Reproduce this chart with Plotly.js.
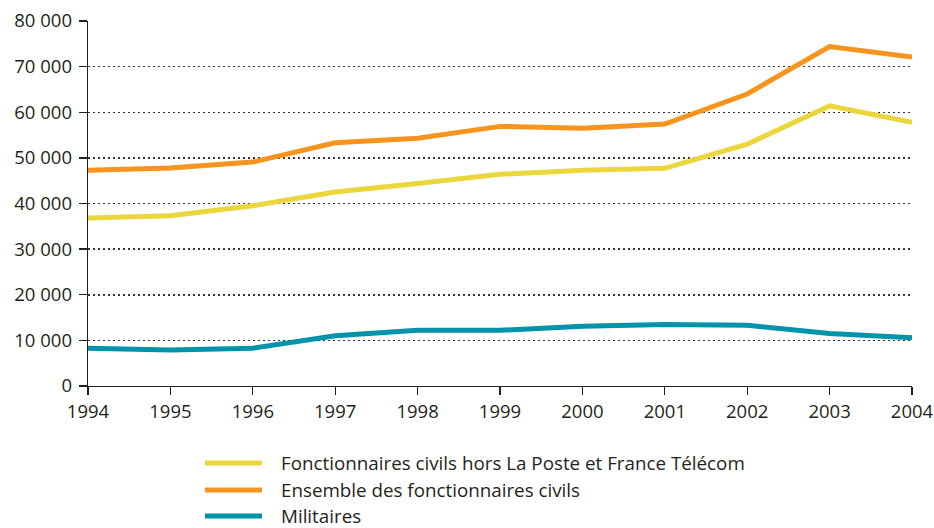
<!DOCTYPE html>
<html>
<head>
<meta charset="utf-8">
<script src="https://cdn.plot.ly/plotly-3.0.1.min.js"></script>
<style>html,body{margin:0;padding:0;background:#fff;}#chart{width:934px;height:528px;}</style>
</head>
<body>
<div id="chart"></div>
<script>
const years = [1994,1995,1996,1997,1998,1999,2000,2001,2002,2003,2004];
const horsPoste = [36800,37300,39500,42500,44400,46400,47300,47700,53000,61400,57800];
const ensemble = [47300,47800,49100,53300,54300,56900,56500,57400,64000,74400,72100];
const militaires = [8300,7900,8300,11000,12200,12200,13100,13500,13300,11500,10600];
const seriesNames = ["Fonctionnaires civils hors La Poste et France Télécom","Ensemble des fonctionnaires civils","Militaires"];
const seriesColors = ["#ebd63b","#f7941d","#0093a9"];
const yTicks = [0,10000,20000,30000,40000,50000,60000,70000,80000];
const yTickText = ["0","10 000","20 000","30 000","40 000","50 000","60 000","70 000","80 000"];

const tickFont = {family:"'Open Sans', Lato, sans-serif", size:18.5, color:"#231f20"};
const legFont = {family:"'Open Sans', Lato, sans-serif", size:18.8, color:"#231f20"};
const allSeries = [horsPoste, ensemble, militaires];
const traces = allSeries.map((v,i)=>({
  x: years, y: v, type:"scatter", mode:"lines", name: seriesNames[i],
  line:{color: seriesColors[i], width:5}, showlegend:false, hoverinfo:"skip"
}));

const W = 934, H = 528, L = 88, R = 22, T = 21, B = 142;
const pw = W-L-R, ph = H-T-B;
const px = x => (x-L)/pw;
const py = y => (H-B-y)/ph;
const legendY = [463,490,516];
const shapes = [], annotations = [];
legendY.forEach((y,i)=>{
  shapes.push({type:"line", xref:"paper", yref:"paper", x0:px(205), x1:px(262), y0:py(y), y1:py(y),
    line:{color:seriesColors[i], width:5}});
  annotations.push({xref:"paper", yref:"paper", x:px(279), y:py(y), xanchor:"left", yanchor:"middle",
    text:seriesNames[i], showarrow:false, font:legFont});
});

const layout = {
  width:W, height:H, margin:{l:L, r:R, t:T, b:B},
  paper_bgcolor:"#fff", plot_bgcolor:"#fff", font:tickFont,
  xaxis:{range:[1994,2004], tickvals:years, ticks:"outside", ticklen:8, tickwidth:1.3, tickcolor:"#231f20",
    showline:true, linecolor:"#231f20", linewidth:1.3, showgrid:false, zeroline:false, tickfont:tickFont, fixedrange:true},
  yaxis:{range:[0,80000], tickvals:yTicks, ticktext:yTickText, ticks:"outside", ticklen:8, tickwidth:1.3, tickcolor:"#231f20",
    ticklabelstandoff:3,
    showline:true, linecolor:"#231f20", linewidth:1.3, showgrid:true, gridcolor:"#333", griddash:"1.5px,3.5px", gridwidth:1.5,
    zeroline:false, tickfont:tickFont, fixedrange:true},
  shapes:shapes, annotations:annotations, showlegend:false
};
Plotly.newPlot("chart", traces, layout, {displayModeBar:false, staticPlot:true});
</script>
</body>
</html>
